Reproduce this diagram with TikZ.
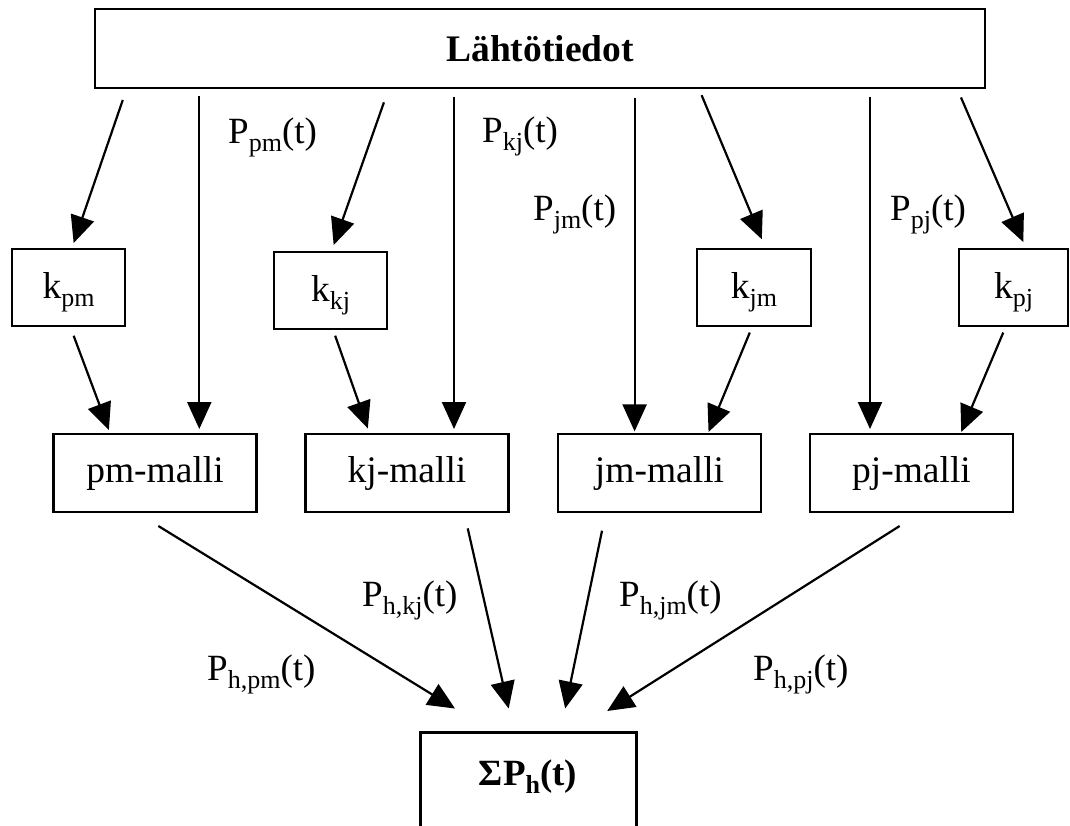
\documentclass[tikz,border=0pt]{standalone}
\usepackage{fontspec}
\setmainfont{Liberation Serif}
\usetikzlibrary{arrows.meta}
\newcommand\sbs[1]{\raisebox{-8.5pt}{\fontsize{26}{30}\selectfont #1}}
\begin{document}
\begin{tikzpicture}[x=1pt,y=-1pt,
  box/.style={draw, line width=2.2pt, inner sep=0pt, outer sep=0pt, font=\fontsize{37.5}{44}\selectfont},
  kbox/.style={box, minimum height=77pt, text height=25pt, text depth=4pt},
  mbox/.style={box, minimum width=203pt, minimum height=78pt},
  arr/.style={line width=2.2pt, -{Triangle[length=27pt,width=24pt]}},
  lbl/.style={anchor=base west, inner sep=0pt, font=\fontsize{37}{44}\selectfont}]
\fill[white] (0,0) rectangle (1070,825);
\useasboundingbox (0,0) rectangle (1070,825);
\clip (0,0) rectangle (1070,825);
% nodes
\node[box, minimum width=890pt, minimum height=79pt, font=\fontsize{37.5}{44}\selectfont\bfseries] (top) at (540,48.5) {Lähtötiedot};
\node[kbox, minimum width=113pt] (kpm) at (68.5,287.5) {k\sbs{pm}};
\node[kbox, minimum width=113pt] (kkj) at (330.5,290.5) {k\sbs{kj}};
\node[kbox, minimum width=114pt] (kjm) at (754,287.5) {k\sbs{jm}};
\node[kbox, minimum width=109pt] (kpj) at (1013.5,287.5) {k\sbs{pj}};
\node[mbox] (pm) at (155,473) {pm-malli};
\node[mbox] (kj) at (407,473) {kj-malli};
\node[mbox] (jm) at (659.5,473) {jm-malli};
\node[mbox] (pj) at (911.5,473) {pj-malli};
\node[box, line width=3pt, anchor=north, minimum width=216pt, minimum height=100pt, text height=25pt, text depth=19pt, font=\fontsize{37}{44}\selectfont\bfseries] (sum) at (528,732) {ΣP\sbs{\bfseries h}(t)};
% row 1
\draw[arr, shorten <=12.7pt, shorten >=6.3pt] ([xshift=31.9pt]top.south west) -- ([xshift=59.6pt]kpm.north west);
\draw[arr, shorten <=8pt, shorten >=5pt] ([xshift=104.3pt]top.south west) -- ([xshift=145.8pt]pm.north west);
\draw[arr, shorten <=15.2pt, shorten >=7.4pt] ([xshift=294pt]top.south west) -- ([xshift=57.2pt]kkj.north west);
\draw[arr, shorten <=8.5pt, shorten >=5pt] ([xshift=359pt]top.south west) -- ([xshift=148.5pt]kj.north west);
\draw[arr, shorten <=10pt, shorten >=2.6pt] ([xshift=539.6pt]top.south west) -- ([xshift=76.6pt]jm.north west);
\draw[arr, shorten <=7.8pt, shorten >=10.6pt] ([xshift=603.6pt]top.south west) -- ([xshift=68.9pt]kjm.north west);
\draw[arr, shorten <=8.5pt, shorten >=5pt] ([xshift=775pt]top.south west) -- ([xshift=60pt]pj.north west);
\draw[arr, shorten <=10.3pt, shorten >=7.6pt] ([xshift=861.9pt]top.south west) -- ([xshift=67.3pt]kpj.north west);
% row 2
\draw[arr, shorten <=10.4pt, shorten >=4.3pt] ([xshift=58pt]kpm.south west) -- ([xshift=56.9pt]pm.north west);
\draw[arr, shorten <=7.1pt, shorten >=5.9pt] ([xshift=58.8pt]kkj.south west) -- ([xshift=64.3pt]kj.north west);
\draw[arr, shorten <=7.1pt, shorten >=2.2pt] ([xshift=55.5pt]kjm.south west) -- ([xshift=149.7pt]jm.north west);
\draw[arr, shorten <=7.1pt, shorten >=2.2pt] ([xshift=47pt]kpj.south west) -- ([xshift=150.4pt]pj.north west);
% row 3
\draw[arr, shorten <=26.7pt, shorten >=44.8pt] ([xshift=82.1pt]pm.south west) -- ([xshift=73.2pt]sum.north west);
\draw[arr, shorten <=16.8pt, shorten >=24.1pt] ([xshift=158.5pt]kj.south west) -- ([xshift=94pt]sum.north west);
\draw[arr, shorten <=19.1pt, shorten >=24pt] ([xshift=47.9pt]jm.south west) -- ([xshift=140.3pt]sum.north west);
\draw[arr, shorten <=26.2pt, shorten >=39.3pt] ([xshift=111.8pt]pj.south west) -- ([xshift=154pt]sum.north west);
% labels
\node[lbl] (lpm) at (228,143) {P\sbs{pm}(t)};
\node[lbl] (lkj) at (482,142) {P\sbs{kj}(t)};
\node[lbl] (ljm) at (533,220) {P\sbs{jm}(t)};
\node[lbl] (lpj) at (890,220) {P\sbs{pj}(t)};
\node[lbl] (lhkj) at (362,606) {P\sbs{h,kj}(t)};
\node[lbl] (lhjm) at (619,606) {P\sbs{h,jm}(t)};
\node[lbl] (lhpm) at (207,680) {P\sbs{h,pm}(t)};
\node[lbl] (lhpj) at (753,680) {P\sbs{h,pj}(t)};
\end{tikzpicture}
\end{document}
